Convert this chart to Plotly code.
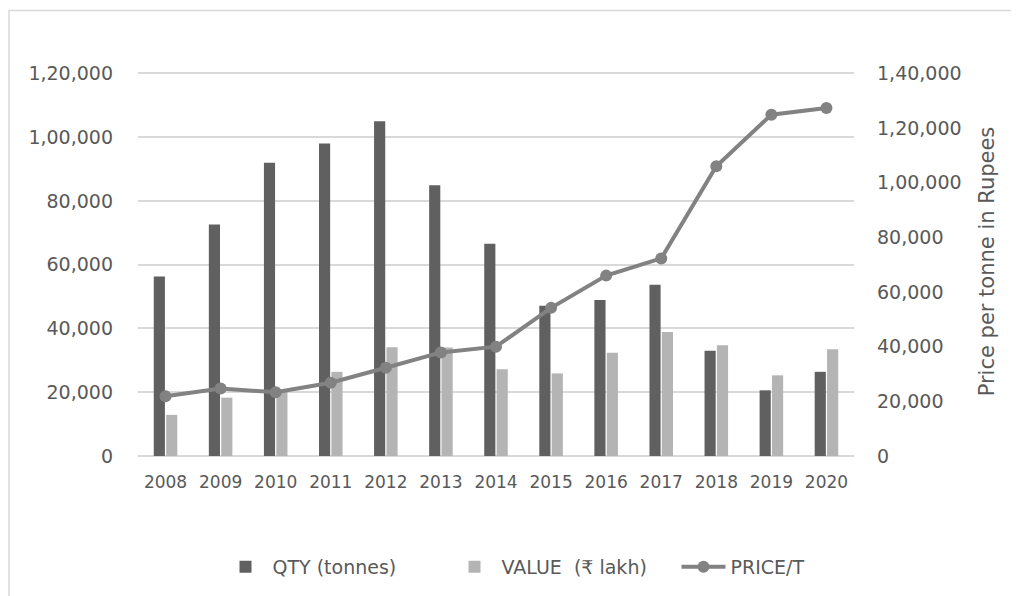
import plotly.graph_objects as go

years = ["2008", "2009", "2010", "2011", "2012", "2013", "2014",
         "2015", "2016", "2017", "2018", "2019", "2020"]
qty_tonnes = [56300, 72600, 92000, 98000, 105000, 84900, 66600,
              47100, 48900, 53700, 33000, 20600, 26400]
value_lakh = [12900, 18300, 20400, 26400, 34100, 34000, 27200,
              25900, 32400, 38900, 34700, 25300, 33500]
price_per_t = [21900, 24700, 23300, 26800, 32300, 37900, 40000,
               54200, 66000, 72300, 106000, 124900, 127300]

left_ticks = [0, 20000, 40000, 60000, 80000, 100000, 120000]
left_labels = ["0", "20,000", "40,000", "60,000", "80,000", "1,00,000", "1,20,000"]
right_ticks = [0, 20000, 40000, 60000, 80000, 100000, 120000, 140000]
right_labels = ["0", "20,000", "40,000", "60,000", "80,000", "1,00,000", "1,20,000", "1,40,000"]

FONT = "DejaVu Sans"
TXT = "#595959"

# page offset (body margin) compensation
OFF = 8
PX_PER_UNIT = (456 - 73) / 120000.0
YMAX = 122000
EXTRA = (YMAX - 120000) * PX_PER_UNIT
L = 138 - OFF
T = 73 - OFF - EXTRA
PR = 854 - OFF        # plot right in figure coords
PB = 456 - OFF        # plot bottom in figure coords
R = 1019 - PR
B = 596 - PB
W = PR - L
H = PB - T

fig = go.Figure()
fig.add_trace(go.Bar(x=years, y=qty_tonnes, name="QTY (tonnes)",
                     marker=dict(color="#606060", line=dict(width=0))))
fig.add_trace(go.Bar(x=years, y=value_lakh, name="VALUE  (₹ lakh)",
                     marker=dict(color="#b4b4b4", line=dict(width=0))))
fig.add_trace(go.Scatter(x=years, y=price_per_t, name="PRICE/T", yaxis="y2",
                         mode="lines+markers",
                         line=dict(color="#828282", width=4),
                         marker=dict(color="#828282", size=12)))

fig.update_layout(
    width=1019, height=596,
    margin=dict(l=L, r=R, t=T, b=B),
    paper_bgcolor="white", plot_bgcolor="white",
    font=dict(family=FONT, size=17, color=TXT),
    barmode="group", bargap=0.55, bargroupgap=0.1,
    showlegend=True,
    legend=dict(orientation="h", x=(562 - OFF - L) / W, xanchor="center",
                y=(PB - (567 - OFF)) / H, yanchor="middle",
                font=dict(family=FONT, size=19, color=TXT),
                itemwidth=44, traceorder="normal",
                entrywidth=170, entrywidthmode="pixels"),
    xaxis=dict(type="category", range=[-0.5, len(years) - 0.5],
               showgrid=False, zeroline=False,
               showline=False, ticks="", ticklabelstandoff=14,
               tickfont=dict(family=FONT, size=17, color=TXT)),
    yaxis=dict(range=[0, YMAX], tickvals=left_ticks, ticktext=left_labels,
               showgrid=True, gridcolor="#d9d9d9", gridwidth=1.5,
               zeroline=True, zerolinecolor="#d9d9d9", zerolinewidth=1.5,
               showline=False, ticks="", ticklabelstandoff=24,
               tickfont=dict(family=FONT, size=19, color=TXT)),
    yaxis2=dict(range=[0, YMAX * 140000 / 120000], tickvals=right_ticks,
                ticktext=right_labels,
                overlaying="y", side="right", showgrid=False, zeroline=False,
                showline=False, ticks="", ticklabelstandoff=22,
                tickfont=dict(family=FONT, size=19, color=TXT),
                title=dict(text="Price per tonne in Rupees",
                           font=dict(family=FONT, size=21, color=TXT),
                           standoff=18)),
    shapes=[dict(type="rect", xref="paper", yref="paper",
                 x0=(1 - L) / W, x1=(1014 - OFF - L) / W,
                 y0=(PB - 620) / H, y1=(PB - (10 - OFF)) / H,
                 line=dict(color="#d9d9d9", width=1.5), layer="below")],
)

fig.write_html("out.html")
